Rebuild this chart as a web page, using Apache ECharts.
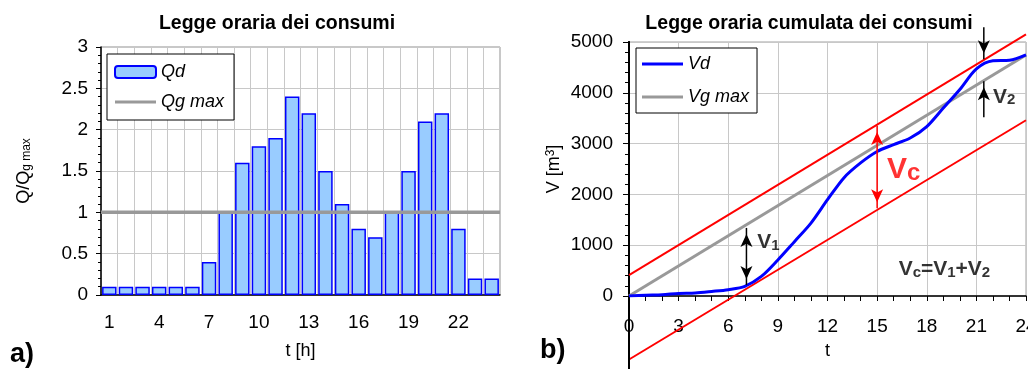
<!DOCTYPE html>
<html>
<head>
<meta charset="utf-8">
<script src="https://cdn.jsdelivr.net/npm/echarts@6/dist/echarts.min.js"></script>
<style>
	html, body { margin: 0; padding: 0; background: #fff; }
	#chart { width: 1028px; height: 369px; }
</style>
</head>
<body>
<div id="chart"></div>
<script>
// a) legge oraria dei consumi
var ore = ['1','2','3','4','5','6','7','8','9','10','11','12','13','14','15','16','17','18','19','20','21','22','23','24'];
var qd = [0.1, 0.1, 0.1, 0.1, 0.1, 0.1, 0.4, 1.0, 1.6, 1.8, 1.9, 2.4, 2.2, 1.5, 1.1, 0.8, 0.7, 1.0, 1.5, 2.1, 2.2, 0.8, 0.2, 0.2];
var qgMax = 1;

// b) legge oraria cumulata
var tOre = [0, 1, 2, 3, 4, 5, 6, 7, 8, 9, 10, 11, 12, 13, 14, 15, 16, 17, 18, 19, 20, 21, 22, 23, 24];
var vd = [0, 15, 25, 50, 60, 90, 125, 190, 385, 710, 1070, 1435, 1895, 2330, 2620, 2845, 2980, 3110, 3335, 3700, 4065, 4470, 4630, 4640, 4745];
var tEstremi = [0, 24];
var vgMax = [0, 4745];
var rettaSup = [410, 5150];
var rettaInf = [-1250, 3460];

var FONT = 'Liberation Sans, Arial, sans-serif';
var GRIGIO = '#c8c8c8';
var ICONA_LINEA = 'path://M0,0H41V3.2H0Z';

function coppie(xs, ys)
{
	var re = [];
	for(var i=0; i<xs.length; i++)
		re.push([xs[i], ys[i]]);
	return re;
}

function numero(v)
{
	return String(v);
}

// freccia verticale: punta in "a" (e opzionalmente anche in "da")
function freccia(t, da, a, doppia, colore)
{
	var su = a > da;
	var punta = function(v, versoSu)
	{
		return { value: [t, v], symbol: 'arrow', symbolSize: [9, 13],
			symbolRotate: (versoSu ? 0 : 180), symbolOffset: [0, (versoSu ? 6 : -6)] };
	};
	var inizio = (doppia ? punta(da, !su) : { value: [t, da] });
	return {
		type: 'line', xAxisIndex: 2, yAxisIndex: 1, clip: false, silent: true,
		symbol: 'none', showSymbol: true, z: 6,
		lineStyle: { color: colore, width: 1.5 },
		itemStyle: { color: colore },
		data: [inizio, punta(a, su)]
	};
}

function etichetta(t, v, testo, rich)
{
	return {
		type: 'scatter', xAxisIndex: 2, yAxisIndex: 1, symbolSize: 0, silent: true, z: 7,
		data: [[t, v]],
		label: { show: true, position: 'right', distance: 0, formatter: testo, rich: rich }
	};
}

var richV = {
	v: { fontFamily: FONT, fontSize: 21, fontWeight: 'bold', color: '#000', lineHeight: 30, verticalAlign: 'bottom' },
	s: { fontFamily: FONT, fontSize: 15, fontWeight: 'bold', color: '#000', lineHeight: 12, verticalAlign: 'bottom' }
};
var richVc = {
	v: { fontFamily: FONT, fontSize: 30, fontWeight: 'bold', color: '#ff0000', lineHeight: 42, verticalAlign: 'bottom' },
	s: { fontFamily: FONT, fontSize: 24, fontWeight: 'bold', color: '#ff0000', lineHeight: 20, verticalAlign: 'bottom' }
};

var chart = echarts.init(document.getElementById('chart'));

var option = {
	animation: false,
	textStyle: { fontFamily: FONT, color: '#000' },
	title: [
		{ text: 'Legge oraria dei consumi', left: 272, top: 9, textAlign: 'center',
			textStyle: { fontFamily: FONT, fontSize: 19.5, fontWeight: 'bold', color: '#000' } },
		{ text: 'Legge oraria cumulata dei consumi', left: 804, top: 9, textAlign: 'center',
			textStyle: { fontFamily: FONT, fontSize: 19.5, fontWeight: 'bold', color: '#000' } }
	],
	legend: [
		{
			data: [{ name: 'Qd' }, { name: 'Qg max', icon: ICONA_LINEA }], orient: 'vertical', left: 107, top: 54,
			padding: [9, 10, 9, 7], itemGap: 12, itemWidth: 41, itemHeight: 12,
			borderColor: '#000', borderWidth: 1, backgroundColor: '#fff', selectedMode: false,
			textStyle: { fontFamily: FONT, fontSize: 18, fontStyle: 'italic', color: '#000' }
		},
		{
			data: [{ name: 'Vd', icon: ICONA_LINEA }, { name: 'Vg max', icon: ICONA_LINEA }], orient: 'vertical', left: 636, top: 48,
			padding: [7, 8, 7, 6], itemGap: 15, itemWidth: 41, itemHeight: 12,
			borderColor: '#000', borderWidth: 1, backgroundColor: '#fff', selectedMode: false,
			textStyle: { fontFamily: FONT, fontSize: 18, fontStyle: 'italic', color: '#000' }
		}
	],
	grid: [
		{ left: 101, top: 47, width: 399, height: 248, show: true, borderColor: '#909090', borderWidth: 1, outerBoundsMode: 'none' },
		{ left: 629, top: 42, width: 397, height: 254, show: true, borderColor: '#a0a0a0', borderWidth: 1, outerBoundsMode: 'none' }
	],
	xAxis: [
		{
			gridIndex: 0, type: 'category', data: ore,
			axisLine: { lineStyle: { color: '#000', width: 1.5 } },
			axisTick: { interval: 0, length: 5, lineStyle: { color: '#000' } },
			axisLabel: { interval: 2, fontSize: 19, margin: 18, color: '#000' },
			splitLine: { show: true, interval: 0, lineStyle: { color: GRIGIO } },
			name: 't [h]', nameLocation: 'middle', nameGap: 47,
			nameTextStyle: { fontSize: 18, color: '#000' }
		},
		{ gridIndex: 0, type: 'value', min: 0, max: 24, show: false },
		{
			gridIndex: 1, type: 'value', min: 0, max: 24, interval: 3,
			axisLine: { onZero: false, lineStyle: { color: '#000', width: 1.5 } },
			axisTick: { length: 5, lineStyle: { color: '#000' } },
			minorTick: { show: true, splitNumber: 3, length: 5, lineStyle: { color: '#000' } },
			axisLabel: { fontSize: 19, margin: 21, color: '#000', formatter: numero },
			splitLine: { show: true, lineStyle: { color: GRIGIO } },
			name: 't', nameLocation: 'middle', nameGap: 46,
			nameTextStyle: { fontSize: 18, color: '#000' }
		}
	],
	yAxis: [
		{
			gridIndex: 0, type: 'value', min: 0, max: 3, interval: 0.5,
			axisLine: { show: true, lineStyle: { color: '#000', width: 1.5 } },
			axisTick: { show: true, length: 5, lineStyle: { color: '#000' } },
			minorTick: { show: true, splitNumber: 5, length: 3, lineStyle: { color: '#000' } },
			axisLabel: { fontSize: 19, margin: 13, color: '#000', formatter: numero },
			splitLine: { lineStyle: { color: GRIGIO } },
			name: '{a|Q/Q}{b|g max}', nameLocation: 'middle', nameGap: 68,
			nameTextStyle: {
				rich: {
					a: { fontFamily: FONT, fontSize: 18, color: '#000', lineHeight: 27, verticalAlign: 'bottom' },
					b: { fontFamily: FONT, fontSize: 12, color: '#000', lineHeight: 10, verticalAlign: 'bottom' }
				}
			}
		},
		{
			gridIndex: 1, type: 'value', min: 0, max: 5000, interval: 1000,
			axisLine: { show: true, onZero: false, lineStyle: { color: '#000', width: 2 } },
			axisTick: { show: true, length: 6, lineStyle: { color: '#000' } },
			minorTick: { show: true, splitNumber: 5, length: 4, lineStyle: { color: '#000' } },
			axisLabel: { fontSize: 19, margin: 16, color: '#000', formatter: numero },
			splitLine: { lineStyle: { color: GRIGIO } },
			name: '{a|V [m}{p|3}{a|]}', nameLocation: 'middle', nameGap: 62,
			nameTextStyle: {
				rich: {
					a: { fontFamily: FONT, fontSize: 18, color: '#000', lineHeight: 22, verticalAlign: 'top' },
					p: { fontFamily: FONT, fontSize: 12, color: '#000', lineHeight: 12, verticalAlign: 'top' }
				}
			}
		},
		{
			gridIndex: 1, type: 'value', min: 0, max: 5000, position: 'right',
			axisLine: { show: true, lineStyle: { color: '#000', width: 2 } },
			axisTick: { show: false }, axisLabel: { show: false }, splitLine: { show: false }
		}
	],
	graphic: [
		{ type: 'text', left: 10, top: 341, style: { text: 'a)', fontFamily: FONT, fontSize: 27, fontWeight: 'bold', fill: '#000' } },
		{ type: 'text', left: 540, top: 337, style: { text: 'b)', fontFamily: FONT, fontSize: 27, fontWeight: 'bold', fill: '#000' } }
	],
	series: [
		{
			name: 'Qd', type: 'bar', xAxisIndex: 0, yAxisIndex: 0, data: qd,
			barCategoryGap: '13%',
			itemStyle: { color: '#99ccff', borderColor: '#0000ff', borderWidth: 1.5 }
		},
		{
			name: 'Qg max', type: 'line', xAxisIndex: 1, yAxisIndex: 0, symbol: 'none',
			data: coppie(tEstremi, [qgMax, qgMax]),
			color: '#999999', lineStyle: { color: '#999999', width: 3.5 }
		},
		{
			name: 'Vg max', type: 'line', xAxisIndex: 2, yAxisIndex: 1, symbol: 'none',
			data: coppie(tEstremi, vgMax),
			color: '#999999', lineStyle: { color: '#999999', width: 3 }
		},
		{
			type: 'line', xAxisIndex: 2, yAxisIndex: 1, symbol: 'none', clip: false, silent: true,
			data: coppie(tEstremi, rettaSup),
			lineStyle: { color: '#ff0000', width: 2 }
		},
		{
			type: 'line', xAxisIndex: 2, yAxisIndex: 1, symbol: 'none', clip: false, silent: true,
			data: coppie(tEstremi, rettaInf),
			lineStyle: { color: '#ff0000', width: 2 }
		},
		{
			// prolungamento dell'asse verticale sotto lo zero
			type: 'line', xAxisIndex: 2, yAxisIndex: 1, symbol: 'none', clip: false, silent: true,
			data: [[0, 0], [0, -1600]],
			lineStyle: { color: '#000', width: 2 }
		},
		{
			name: 'Vd', type: 'line', xAxisIndex: 2, yAxisIndex: 1, symbol: 'none', smooth: 0.3,
			data: coppie(tOre, vd),
			color: '#0000ff', lineStyle: { color: '#0000ff', width: 3 }
		},
		freccia(7.1, 1340, 215, true, '#000'),
		freccia(15, 3345, 1725, true, '#ff0000'),
		freccia(21.45, 5290, 4660, false, '#000'),
		freccia(21.45, 3520, 4225, false, '#000'),
		etichetta(7.75, 1140, '{v|V}{s|1}', richV),
		etichetta(22.0, 4000, '{v|V}{s|2}', richV),
		etichetta(15.6, 2600, '{v|V}{s|c}', richVc),
		etichetta(16.3, 610, '{v|V}{s|c}{v|=V}{s|1}{v|+V}{s|2}', richV)
	]
};

chart.setOption(option);
</script>
</body>
</html>
